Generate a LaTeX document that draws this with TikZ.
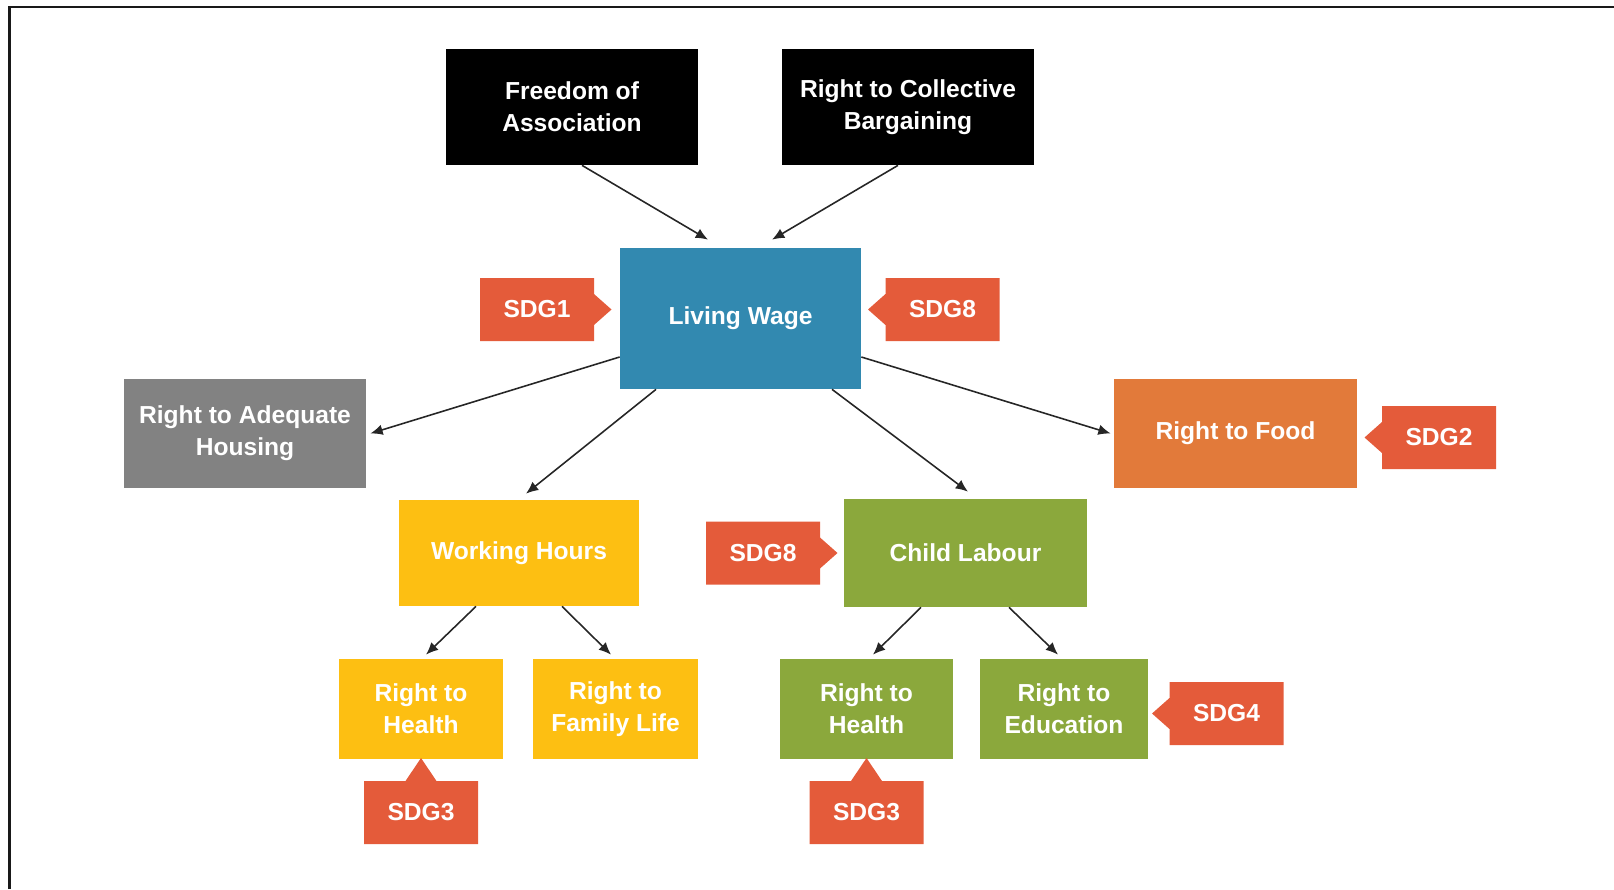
\documentclass[tikz,border=0pt]{standalone}
\usepackage{fontspec}
\setmainfont{Liberation Sans}
\usetikzlibrary{positioning,arrows.meta,shapes.callouts}

\definecolor{lwblue}{RGB}{50,137,176}
\definecolor{housegray}{RGB}{130,130,130}
\definecolor{foodorange}{RGB}{226,122,58}
\definecolor{sdgred}{RGB}{228,91,58}
\definecolor{whyellow}{RGB}{253,191,18}
\definecolor{clgreen}{RGB}{139,168,60}

\begin{document}
\begin{tikzpicture}[on grid,>={Latex[length=7pt,width=6pt]},
		box/.style={rectangle,text=white,align=center,inner sep=0pt,
			font=\bfseries\fontsize{14}{18}\selectfont},
		wide/.style={box,minimum width=4.84cm,minimum height=2.16cm},
		small/.style={box,minimum width=3.3cm,minimum height=2cm},
		sdg/.style={rectangle callout,fill=sdgred,text=white,inner sep=0pt,
			font=\bfseries\fontsize{14}{18}\selectfont,
			minimum width=2.28cm,minimum height=1.26cm,callout pointer width=0.62cm},
		toR/.style={sdg,callout relative pointer={(0.35cm,0)}},
		toL/.style={sdg,callout relative pointer={(-0.35cm,0)}},
		toU/.style={sdg,callout relative pointer={(0,0.46cm)}},
		link/.style={->,draw=black!85,line width=0.9pt}]
   \useasboundingbox (0,0) rectangle (32.28,-17.78);
   \draw[line width=1.4pt,black!90] (0.19,-17.78) -- (0.19,-0.14) -- (32.28,-0.14);

   % top of the tree
   \node [box,fill=lwblue,minimum width=4.82cm,minimum height=2.82cm] (lw) at (14.81,-6.37) {Living Wage};
   \node [box,fill=black,minimum width=5.04cm,minimum height=2.32cm] (fa) [above=4.23cm of lw,xshift=-3.37cm] {Freedom of\\Association};
   \node [box,fill=black,minimum width=5.04cm,minimum height=2.32cm] (cb) [above=4.23cm of lw,xshift=3.35cm] {Right to Collective\\Bargaining};

   \node [wide,fill=housegray,minimum width=4.84cm,minimum height=2.18cm] (hs) [below=2.3cm of lw,xshift=-9.91cm] {Right to Adequate\\Housing};
   \node [wide,fill=foodorange,minimum width=4.86cm,minimum height=2.18cm] (fd) [below=2.3cm of lw,xshift=9.9cm] {Right to Food};
   \node [wide,fill=whyellow,minimum width=4.8cm,minimum height=2.12cm] (wh) [below=4.69cm of lw,xshift=-4.43cm] {Working Hours};
   \node [wide,fill=clgreen,minimum width=4.86cm] (cl) [below=4.69cm of lw,xshift=4.5cm] {Child Labour};

   % bottom row
   \node [small,fill=whyellow,minimum width=3.28cm] (rh1) [below=3.12cm of wh,xshift=-1.96cm] {Right to\\Health};
   \node [small,fill=whyellow] (rfl) [below=3.12cm of wh,xshift=1.93cm] {Right to\\Family Life};
   \node [small,fill=clgreen,minimum width=3.46cm] (rh2) [below=3.12cm of cl,xshift=-1.98cm] {Right to\\Health};
   \node [small,fill=clgreen,minimum width=3.36cm] (re) [below=3.12cm of cl,xshift=1.97cm] {Right to\\Education};

   % SDG tags
   \node [toR] (s1)  [left=4.07cm of lw,yshift=0.18cm] {SDG1};
   \node [toL] (s8a) [right=4.04cm of lw,yshift=0.18cm] {SDG8};
   \node [toL] (s2)  [right=4.07cm of fd,yshift=-0.08cm] {SDG2};
   \node [toR] (s8b) [left=4.05cm of cl] {SDG8};
   \node [toL] (s4)  [right=3.25cm of re,yshift=-0.09cm] {SDG4};
   \node [toU] (s3a) [below=2.07cm of rh1] {SDG3};
   \node [toU] (s3b) [below=2.07cm of rh2] {SDG3};

   % arrows
   \draw [link] ([xshift=0.2cm]fa.south) -- ([xshift=-0.65cm,yshift=0.16cm]lw.north);
   \draw [link] ([xshift=-0.2cm]cb.south) -- ([xshift=0.63cm,yshift=0.16cm]lw.north);
   \draw [link] ([yshift=-0.77cm]lw.west) -- ([xshift=0.08cm]hs.east);
   \draw [link] ([yshift=-0.77cm]lw.east) -- ([xshift=-0.06cm]fd.west);
   \draw [link] ([xshift=-1.69cm]lw.south) -- ([xshift=0.14cm,yshift=0.12cm]wh.north);
   \draw [link] ([xshift=1.83cm]lw.south) -- ([xshift=0.05cm,yshift=0.14cm]cl.north);
   \draw [link] ([xshift=-0.86cm]wh.south) -- ([xshift=0.1cm,yshift=0.08cm]rh1.north);
   \draw [link] ([xshift=0.86cm]wh.south) -- ([xshift=-0.09cm,yshift=0.08cm]rfl.north);
   \draw [link] ([xshift=-0.89cm]cl.south) -- ([xshift=0.13cm,yshift=0.08cm]rh2.north);
   \draw [link] ([xshift=0.87cm]cl.south) -- ([xshift=-0.12cm,yshift=0.08cm]re.north);
\end{tikzpicture}
\end{document}
